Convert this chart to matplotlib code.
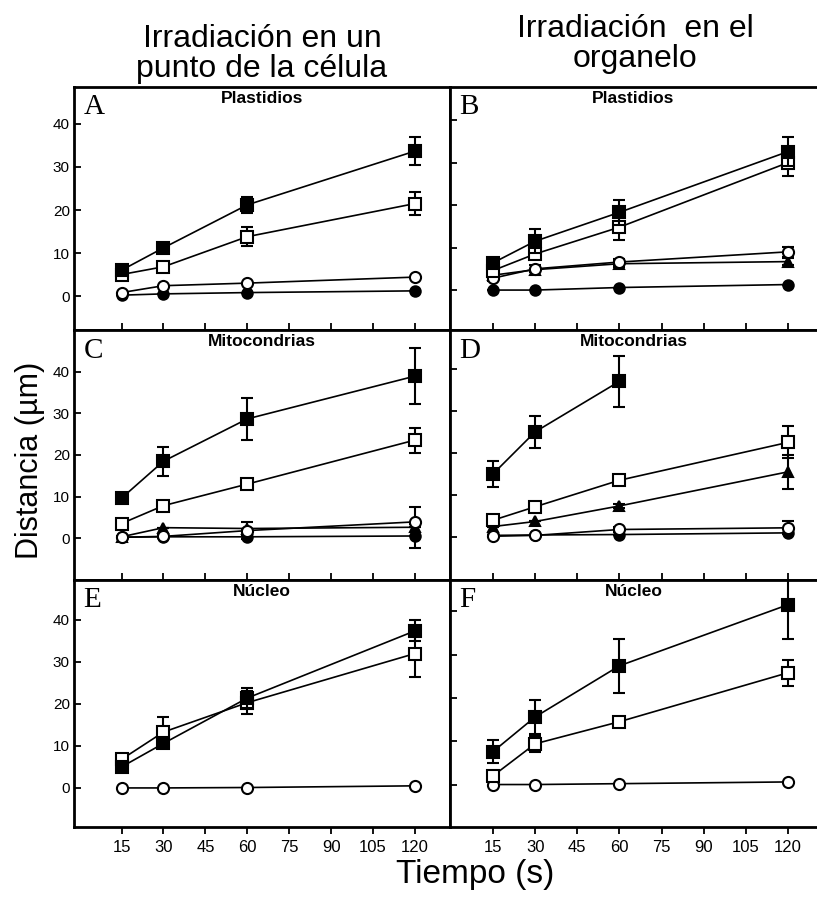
import numpy as np
import matplotlib
matplotlib.use("Agg")
import matplotlib.pyplot as plt

plt.rcParams['font.family'] = ['Liberation Sans', 'DejaVu Sans']

# tiempos (s)
times = [15, 30, 60, 120]
xticks = [15, 30, 45, 60, 75, 90, 105, 120]
yticks = [0, 10, 20, 30, 40]

# A - Plastidios, irradiacion en un punto
a_fsq = [6.0, 11.2, 21.2, 33.7]
a_fsq_err = [0.8, 0.6, 1.8, 3.3]
a_osq = [5.0, 6.8, 13.8, 21.5]
a_osq_err = [0.8, 1.0, 2.2, 2.7]
a_oci = [0.8, 2.4, 3.0, 4.4]
a_fci = [0.2, 0.5, 0.8, 1.2]

# B - Plastidios, irradiacion en el organelo
b_fsq = [6.4, 11.5, 18.3, 32.6]
b_fsq_err = [1.0, 2.8, 3.0, 3.5]
b_osq = [4.6, 8.5, 14.8, 30.0]
b_osq_err = [1.0, 1.0, 3.0, 3.2]
b_oci = [2.8, 5.0, 6.6, 9.0]
b_oci_err = [0.6, 0.8, 0.8, 1.2]
b_tri = [3.5, 4.8, 6.2, 6.7]
b_tri_err = [0.0, 0.0, 0.8, 0.8]
b_fci = [0.0, 0.0, 0.6, 1.3]

# C - Mitocondrias, punto
c_fsq = [9.6, 18.5, 28.7, 39.0]
c_fsq_err = [1.0, 3.5, 5.0, 6.7]
c_osq = [3.5, 7.8, 13.0, 23.6]
c_osq_err = [0.6, 0.6, 1.2, 3.0]
c_oci = [0.2, 0.4, 1.8, 3.9]
c_oci_err = [0.3, 0.3, 2.0, 3.5]
c_tri = [0.3, 2.5, 2.3, 2.6]
c_fci = [0.2, 0.3, 0.3, 0.5]
c_fci_err = [0.0, 0.0, 0.5, 3.0]

# D - Mitocondrias, organelo
d_fsq = [15.0, 25.0, 37.0, np.nan]
d_fsq_err = [3.0, 3.8, 6.0, 0.0]
d_osq = [4.0, 7.2, 13.5, 22.5]
d_osq_err = [0.5, 0.5, 1.2, 3.8]
d_tri = [2.5, 3.7, 7.4, 15.5]
d_tri_err = [0.0, 0.0, 0.5, 4.0]
d_oci = [0.2, 0.4, 1.8, 2.2]
d_oci_err = [0.0, 0.0, 0.5, 1.5]
d_fci = [0.4, 0.5, 0.6, 1.0]

# E - Nucleo, punto
e_fsq = [5.0, 10.6, 21.4, 37.4]
e_fsq_err = [1.0, 1.0, 2.4, 2.5]
e_osq = [6.8, 13.3, 20.3, 32.0]
e_osq_err = [1.0, 3.6, 2.8, 5.5]
e_oci = [0.0, 0.0, 0.1, 0.5]

# F - Nucleo, organelo
f_fsq = [7.6, 15.6, 27.4, 41.5]
f_fsq_err = [2.6, 4.0, 6.2, 8.0]
f_osq = [2.0, 9.4, 14.5, 25.8]
f_osq_err = [1.0, 1.8, 1.0, 3.0]
f_oci = [0.0, 0.0, 0.2, 0.6]

W, H = 817, 899
fig = plt.figure(figsize=(W / 100, H / 100), dpi=100)


def box(x0, y0, x1, y1):
    return [x0 / W, 1 - y1 / H, (x1 - x0) / W, (y1 - y0) / H]


styles = {
    'fsq': dict(marker='s', mfc='black', ms=8, zorder=6),
    'osq': dict(marker='s', mfc='white', ms=8, zorder=5),
    'oci': dict(marker='o', mfc='white', ms=8, zorder=4),
    'tri': dict(marker='^', mfc='black', ms=7, zorder=3),
    'fci': dict(marker='o', mfc='black', ms=7.5, zorder=2),
}


def serie(ax, y, kind, err=None):
    st = dict(styles[kind])
    z = st.pop('zorder')
    if err is None:
        err = [0] * len(y)
    ax.errorbar(times, y, yerr=err, color='black', lw=1.2, mec='black',
                mew=1.5, elinewidth=1.5, capsize=4, capthick=1.5,
                zorder=z, **st)


rows = [(87, 330), (330, 580), (580, 827)]
panels = [
    ('A', 'Plastidios', 0, 0, (-7.9, 48.6)),
    ('B', 'Plastidios', 0, 1, (-9.4, 47.8)),
    ('C', 'Mitocondrias', 1, 0, (-10.1, 50.1)),
    ('D', 'Mitocondrias', 1, 1, (-10.2, 49.2)),
    ('E', 'Núcleo', 2, 0, (-9.3, 49.5)),
    ('F', 'Núcleo', 2, 1, (-9.8, 47.2)),
]
axes = {}
for letter, name, r, c, ylim in panels:
    y0, y1 = rows[r]
    if c == 0:
        ax = fig.add_axes(box(74, y0, 450, y1))
        ax.set_xlim(-2, 132.5)
    else:
        ax = fig.add_axes(box(450, y0, 817, y1))
        ax.set_xlim(-0.3, 130.3)
        ax.spines['right'].set_visible(False)
    ax.set_ylim(*ylim)
    for s in ax.spines.values():
        s.set_linewidth(2)
    ax.set_xticks(xticks)
    ax.set_yticks(yticks)
    ax.tick_params(axis='y', direction='in', length=5, width=1.3,
                   labelsize=11, pad=3)
    if r == 2:
        ax.tick_params(axis='x', direction='out', length=5, width=1.3,
                       labelsize=12, pad=4)
    else:
        ax.tick_params(axis='x', direction='in', length=5, width=1.3,
                       labelbottom=False)
    if c == 1:
        ax.tick_params(axis='y', labelleft=False)
    ax.text(0.025, 0.97, letter, transform=ax.transAxes, ha='left', va='top',
            fontsize=21, family=['Liberation Serif', 'DejaVu Serif'])
    ax.text(0.5, 0.985, name, transform=ax.transAxes, ha='center', va='top',
            fontsize=12.5, fontweight='bold')
    axes[letter] = ax

ax = axes['A']
serie(ax, a_fci, 'fci')
serie(ax, a_oci, 'oci')
serie(ax, a_osq, 'osq', a_osq_err)
serie(ax, a_fsq, 'fsq', a_fsq_err)

ax = axes['B']
serie(ax, b_fci, 'fci')
serie(ax, b_tri, 'tri', b_tri_err)
serie(ax, b_oci, 'oci', b_oci_err)
serie(ax, b_osq, 'osq', b_osq_err)
serie(ax, b_fsq, 'fsq', b_fsq_err)

ax = axes['C']
serie(ax, c_fci, 'fci', c_fci_err)
serie(ax, c_tri, 'tri')
serie(ax, c_oci, 'oci', c_oci_err)
serie(ax, c_osq, 'osq', c_osq_err)
serie(ax, c_fsq, 'fsq', c_fsq_err)

ax = axes['D']
serie(ax, d_fci, 'fci')
serie(ax, d_oci, 'oci', d_oci_err)
serie(ax, d_tri, 'tri', d_tri_err)
serie(ax, d_osq, 'osq', d_osq_err)
serie(ax, d_fsq, 'fsq', d_fsq_err)

ax = axes['E']
serie(ax, e_oci, 'oci')
serie(ax, e_osq, 'osq', e_osq_err)
serie(ax, e_fsq, 'fsq', e_fsq_err)

ax = axes['F']
serie(ax, f_oci, 'oci')
serie(ax, f_osq, 'osq', f_osq_err)
serie(ax, f_fsq, 'fsq', f_fsq_err)

# titulos de columna y ejes
fig.text(262 / W, 1 - 54 / H, 'Irradiación en un\npunto de la célula',
         ha='center', va='center', fontsize=23, linespacing=1.0)
fig.text(635 / W, 1 - 44 / H, 'Irradiación  en el\norganelo',
         ha='center', va='center', fontsize=23, linespacing=1.0)
fig.text(30 / W, 1 - 460 / H, 'Distancia (µm)', rotation=90,
         ha='center', va='center', fontsize=22)
fig.text(475 / W, 1 - 874 / H, 'Tiempo (s)', ha='center', va='center',
         fontsize=24)

fig.savefig('out.png', dpi=100)
